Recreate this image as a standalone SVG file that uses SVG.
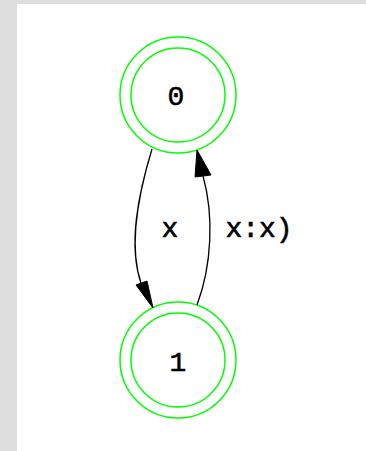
<svg xmlns="http://www.w3.org/2000/svg" width="366" height="451" viewBox="0 0 366 451">
<style>
.ring{fill:none;stroke:#00ff00;stroke-width:1.5}
.lbl{font-family:"Liberation Mono","DejaVu Sans Mono",monospace;font-size:28px;font-weight:normal;fill:#000;stroke:#000;stroke-width:0.6;text-anchor:middle}
.edge{fill:none;stroke:#000;stroke-width:1.3}
.head{fill:#000;stroke:#000;stroke-width:1}
</style>
<rect x="0" y="0" width="366" height="451" fill="#dddddd"/>
<rect x="17" y="4" width="349" height="447" fill="#ffffff"/>
<g id="node0">
<circle class="ring" cx="178" cy="95" r="58"/>
<circle class="ring" cx="178" cy="95" r="47"/>
<text class="lbl" x="176" y="105">0</text>
</g>
<g id="node1">
<circle class="ring" cx="178" cy="360" r="58"/>
<circle class="ring" cx="178" cy="360" r="47"/>
<text class="lbl" x="178" y="371">1</text>
</g>
<g id="edges">
<path class="edge" d="M152,149 C138,195 128,245 141,283"/>
<polygon class="head" points="136,285 147,281 153,308"/>
<text class="lbl" x="170" y="237">x</text>
<path class="edge" d="M197,305 C212,265 214,215 203,176"/>
<polygon class="head" points="195,177 211,175 197,150"/>
<text class="lbl" x="259" y="237">x:x)</text>
</g>
</svg>
